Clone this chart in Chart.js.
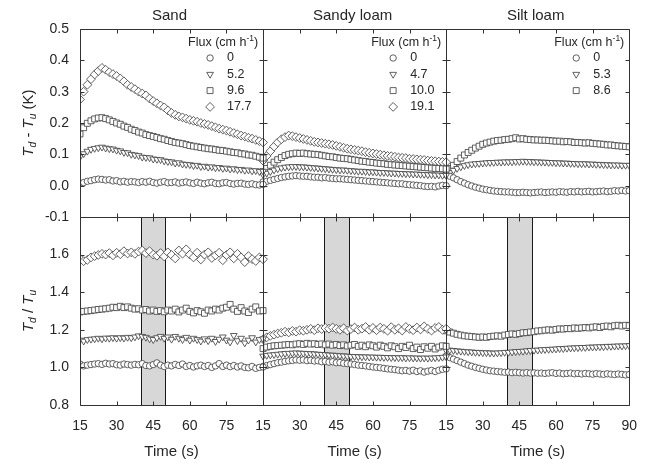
<!DOCTYPE html>
<html><head><meta charset="utf-8">
<script src="https://cdn.jsdelivr.net/npm/chart.js@4/dist/chart.umd.min.js"></script>
<style>html,body{margin:0;padding:0;background:#fff}#wrap{width:650px;height:463px;position:relative}</style>
</head><body><div id="wrap"><canvas id="c" width="650" height="463"></canvas></div>
<script>
// ---------------- data ----------------
const times = [15,16.5,18,19.5,21,22.5,24,25.5,27,28.5,30,31.5,33,34.5,36,37.5,39,40.5,42,43.5,45,46.5,48,49.5,51,52.5,54,55.5,57,58.5,60,61.5,63,64.5,66,67.5,69,70.5,72,73.5,75,76.5,78,79.5,81,82.5,84,85.5,87,88.5,90];
const panelTitles = ['Sand', 'Sandy loam', 'Silt loam'];
const fluxLabels = [['0','5.2','9.6','17.7'], ['0','4.7','10.0','19.1'], ['0','5.3','8.6']];
const shadeWindow = [40, 50];
const xTickValues = [15,30,45,60,75,90];
const topTicks = [-0.1,0,0.1,0.2,0.3,0.4,0.5];
const botTicks = [0.8,1.0,1.2,1.4,1.6,1.8];

// Td - Tu (K)
const sandDiff0   = [.008,.010,.014,.016,.019,.021,.020,.018,.019,.015,.016,.012,.014,.011,.013,.012,.010,.013,.011,.014,.010,.008,.011,.013,.009,.010,.012,.008,.010,.012,.009,.007,.011,.008,.006,.009,.011,.007,.006,.009,.010,.007,.005,.007,.008,.005,.004,.006,.003,.002,.004];
const sandDiff52  = [.092,.102,.110,.116,.119,.121,.123,.120,.118,.117,.113,.111,.106,.105,.100,.098,.096,.091,.090,.089,.085,.084,.083,.079,.077,.076,.072,.073,.069,.068,.067,.064,.065,.061,.062,.059,.060,.057,.058,.055,.056,.053,.054,.051,.052,.049,.050,.047,.048,.045,.046];
const sandDiff96  = [.165,.185,.199,.207,.213,.216,.217,.214,.210,.205,.200,.196,.190,.186,.180,.176,.171,.168,.163,.160,.157,.154,.150,.148,.144,.141,.138,.136,.134,.131,.128,.126,.124,.122,.120,.118,.117,.115,.113,.112,.110,.108,.106,.105,.102,.101,.098,.097,.094,.091,.088];
const sandDiff177 = [.275,.300,.322,.340,.355,.366,.376,.370,.362,.356,.350,.342,.333,.322,.315,.308,.300,.294,.288,.278,.270,.263,.256,.250,.240,.232,.226,.221,.218,.214,.210,.207,.204,.200,.197,.194,.190,.186,.182,.179,.176,.172,.168,.164,.160,.157,.153,.150,.146,.142,.138];
const slDiff0   = [.012,.014,.017,.020,.023,.026,.028,.030,.031,.032,.031,.030,.030,.028,.027,.027,.025,.026,.024,.023,.022,.022,.021,.020,.019,.018,.017,.016,.015,.014,.013,.012,.011,.010,.009,.008,.007,.006,.006,.004,.003,.002,.001,.000,-.002,-.003,-.002,-.004,-.001,.001,.000];
const slDiff47  = [.035,.040,.045,.050,.054,.057,.059,.060,.061,.061,.060,.060,.059,.058,.057,.056,.055,.054,.053,.052,.051,.050,.050,.049,.048,.047,.046,.046,.045,.044,.044,.043,.042,.042,.041,.040,.040,.039,.039,.038,.038,.037,.037,.036,.036,.035,.035,.034,.034,.033,.033];
const slDiff100 = [.045,.055,.065,.075,.083,.090,.096,.100,.102,.104,.103,.104,.102,.101,.100,.099,.097,.095,.093,.092,.090,.088,.087,.086,.084,.082,.080,.078,.077,.075,.074,.072,.071,.070,.068,.067,.066,.065,.064,.063,.062,.061,.060,.059,.058,.057,.056,.055,.055,.054,.053];
const slDiff191 = [.080,.095,.110,.125,.138,.148,.155,.160,.158,.155,.152,.149,.146,.143,.140,.138,.136,.134,.132,.130,.127,.124,.121,.118,.116,.114,.112,.110,.107,.105,.103,.101,.099,.097,.095,.094,.092,.090,.089,.088,.086,.085,.084,.083,.082,.080,.079,.078,.077,.076,.075];
const siDiff0  = [.035,.030,.025,.019,.013,.008,.003,-.001,-.005,-.008,-.011,-.013,-.015,-.017,-.018,-.019,-.020,-.020,-.021,-.022,-.022,-.021,-.022,-.023,-.022,-.021,-.020,-.022,-.021,-.020,-.021,-.019,-.020,-.021,-.019,-.020,-.018,-.020,-.019,-.018,-.020,-.019,-.018,-.017,-.019,-.018,-.016,-.017,-.015,-.017,-.016];
const siDiff53 = [.035,.042,.049,.055,.060,.064,.067,.069,.070,.071,.072,.073,.074,.074,.075,.075,.076,.076,.076,.077,.077,.078,.077,.077,.076,.076,.075,.075,.074,.074,.073,.073,.072,.072,.071,.071,.070,.070,.070,.069,.069,.068,.068,.067,.067,.066,.066,.066,.065,.065,.065];
const siDiff86 = [.045,.055,.065,.077,.088,.098,.106,.113,.120,.126,.132,.136,.139,.142,.144,.145,.147,.148,.150,.153,.149,.150,.148,.147,.146,.146,.145,.145,.144,.143,.142,.142,.140,.141,.140,.138,.138,.137,.136,.137,.135,.134,.133,.132,.130,.130,.128,.127,.126,.125,.124];

// Td / Tu
const sandRat0   = [1.018,1.008,1.012,1.015,1.018,1.020,1.016,1.022,1.018,1.020,1.014,1.012,1.018,1.015,1.012,1.016,1.014,1.020,1.010,1.008,1.015,1.024,1.012,1.005,1.012,1.008,1.016,1.010,1.018,1.005,1.010,1.002,1.008,1.012,1.005,1.010,1.000,1.008,1.020,1.005,1.012,1.004,1.010,1.002,1.008,1.000,0.998,1.005,0.995,1.000,1.002];
const sandRat52  = [1.145,1.140,1.148,1.150,1.152,1.155,1.152,1.156,1.155,1.158,1.155,1.158,1.156,1.160,1.158,1.162,1.168,1.165,1.160,1.152,1.148,1.158,1.165,1.155,1.162,1.150,1.165,1.155,1.148,1.160,1.145,1.155,1.148,1.140,1.152,1.142,1.155,1.138,1.150,1.162,1.145,1.135,1.170,1.142,1.155,1.130,1.145,1.158,1.135,1.148,1.152];
const sandRat96  = [1.295,1.298,1.300,1.302,1.305,1.308,1.310,1.312,1.315,1.320,1.318,1.325,1.318,1.322,1.315,1.310,1.312,1.305,1.308,1.300,1.305,1.298,1.302,1.296,1.305,1.300,1.310,1.295,1.305,1.315,1.298,1.290,1.302,1.296,1.288,1.305,1.300,1.310,1.305,1.315,1.320,1.335,1.310,1.298,1.318,1.300,1.292,1.310,1.322,1.300,1.302];
const sandRat177 = [1.578,1.565,1.572,1.585,1.592,1.598,1.604,1.600,1.608,1.596,1.610,1.602,1.618,1.606,1.612,1.604,1.616,1.622,1.608,1.618,1.600,1.594,1.608,1.590,1.612,1.598,1.580,1.622,1.605,1.628,1.600,1.585,1.610,1.574,1.600,1.612,1.582,1.596,1.610,1.570,1.598,1.612,1.580,1.604,1.585,1.560,1.592,1.576,1.566,1.585,1.575];
const slRat0   = [1.005,1.010,1.015,1.020,1.025,1.028,1.032,1.035,1.037,1.040,1.038,1.040,1.036,1.038,1.034,1.035,1.030,1.032,1.028,1.030,1.025,1.026,1.022,1.020,1.018,1.015,1.012,1.010,1.008,1.005,1.002,1.000,0.998,0.995,0.992,0.990,0.988,0.985,0.982,0.984,0.980,0.985,0.978,0.982,0.975,0.980,0.984,0.978,0.985,0.990,0.992];
const slRat47  = [1.060,1.064,1.066,1.068,1.070,1.072,1.074,1.075,1.076,1.077,1.076,1.075,1.074,1.073,1.072,1.070,1.069,1.068,1.066,1.065,1.064,1.062,1.061,1.060,1.058,1.058,1.057,1.056,1.056,1.055,1.055,1.054,1.054,1.053,1.053,1.052,1.052,1.051,1.052,1.050,1.051,1.050,1.050,1.049,1.050,1.049,1.050,1.051,1.052,1.054,1.056];
const slRat100 = [1.100,1.108,1.112,1.115,1.116,1.118,1.120,1.122,1.120,1.124,1.126,1.122,1.128,1.124,1.126,1.122,1.125,1.120,1.124,1.118,1.122,1.116,1.120,1.114,1.118,1.122,1.112,1.118,1.110,1.120,1.115,1.108,1.118,1.112,1.104,1.115,1.110,1.100,1.112,1.106,1.118,1.100,1.108,1.095,1.110,1.102,1.112,1.098,1.108,1.115,1.112];
const slRat191 = [1.150,1.160,1.168,1.174,1.180,1.184,1.190,1.186,1.194,1.190,1.198,1.195,1.200,1.205,1.198,1.208,1.204,1.210,1.206,1.212,1.205,1.200,1.208,1.196,1.204,1.212,1.200,1.206,1.215,1.200,1.210,1.198,1.212,1.205,1.195,1.214,1.200,1.208,1.196,1.215,1.205,1.198,1.212,1.202,1.218,1.205,1.196,1.210,1.215,1.200,1.206];
const siRat0  = [1.060,1.052,1.044,1.036,1.028,1.020,1.012,1.006,1.000,0.995,0.990,0.986,0.982,0.980,0.978,0.976,0.974,0.975,0.972,0.974,0.972,0.970,0.972,0.970,0.971,0.969,0.970,0.968,0.970,0.972,0.968,0.970,0.966,0.968,0.970,0.966,0.968,0.965,0.968,0.966,0.964,0.967,0.965,0.963,0.966,0.964,0.962,0.965,0.963,0.960,0.962];
const siRat53 = [1.090,1.092,1.090,1.088,1.086,1.085,1.083,1.082,1.080,1.080,1.078,1.078,1.077,1.076,1.077,1.078,1.080,1.080,1.082,1.084,1.085,1.086,1.088,1.090,1.091,1.092,1.094,1.095,1.096,1.097,1.098,1.100,1.100,1.102,1.103,1.104,1.105,1.106,1.106,1.108,1.108,1.109,1.110,1.110,1.112,1.112,1.113,1.114,1.114,1.115,1.116];
const siRat86 = [1.195,1.188,1.182,1.176,1.172,1.168,1.166,1.164,1.162,1.160,1.162,1.160,1.164,1.166,1.168,1.166,1.172,1.175,1.178,1.176,1.180,1.184,1.185,1.188,1.190,1.194,1.195,1.198,1.200,1.198,1.202,1.205,1.204,1.207,1.206,1.210,1.208,1.210,1.212,1.210,1.214,1.216,1.212,1.218,1.220,1.216,1.222,1.224,1.220,1.224,1.222];

const diffSeries  = [[sandDiff0, sandDiff52, sandDiff96, sandDiff177], [slDiff0, slDiff47, slDiff100, slDiff191], [siDiff0, siDiff53, siDiff86]];
const ratioSeries = [[sandRat0, sandRat52, sandRat96, sandRat177], [slRat0, slRat47, slRat100, slRat191], [siRat0, siRat53, siRat86]];

// ---------------- presentation ----------------
const SPAN = 75, T0 = 15;
const FONT = '"Liberation Sans", Arial, sans-serif';
const INK = '#262626';
const MARK = '#444';
const markers = [
  {pointStyle: 'circle',   radius: 3.2, rotation: 0},
  {pointStyle: 'triangle', radius: 3.9, rotation: 180},
  {pointStyle: 'rect',     radius: 4.2, rotation: 0},
  {pointStyle: 'rectRot',  radius: 4.4, rotation: 0}
];

const datasets = [];
function addSet(values, panel, m, axis) {
  datasets.push({
    data: values.map((v, i) => ({x: times[i] + panel * SPAN, y: v})),
    yAxisID: axis,
    showLine: false,
    pointStyle: markers[m].pointStyle,
    pointRadius: markers[m].radius,
    pointRotation: markers[m].rotation,
    pointBorderWidth: 0.85,
    pointBorderColor: MARK,
    pointBackgroundColor: '#fff',
    pointHoverRadius: markers[m].radius
  });
}
diffSeries.forEach((group, p) => group.forEach((vals, m) => addSet(vals, p, m, 'yTop')));
ratioSeries.forEach((group, p) => group.forEach((vals, m) => addSet(vals, p, m, 'yBot')));

function crisp(v) { return Math.round(v) + 0.5; }

function measureRich(ctx, parts, size) {
  let w = 0;
  parts.forEach(p => {
    const fs = p[2] ? size * 0.68 : size;
    ctx.font = (p[1] ? 'italic ' : '') + fs + 'px ' + FONT;
    w += ctx.measureText(p[0]).width;
  });
  return w;
}
function paintRich(ctx, parts, size, x, y) {
  let cx = x;
  parts.forEach(p => {
    const fs = p[2] ? size * 0.68 : size;
    ctx.font = (p[1] ? 'italic ' : '') + fs + 'px ' + FONT;
    const dy = p[2] === -1 ? size * 0.28 : (p[2] === 1 ? -size * 0.38 : 0);
    ctx.fillText(p[0], cx, y + dy);
    cx += ctx.measureText(p[0]).width;
  });
}

const deco = {
  id: 'deco',
  beforeDatasetsDraw(chart) {
    const {ctx} = chart;
    const xs = chart.scales.x, yb = chart.scales.yBot;
    ctx.save();
    for (let k = 0; k < 3; k++) {
      const x0 = crisp(xs.getPixelForValue(shadeWindow[0] + k * SPAN));
      const x1 = crisp(xs.getPixelForValue(shadeWindow[1] + k * SPAN));
      ctx.fillStyle = '#d7d7d7';
      ctx.fillRect(x0, yb.top, x1 - x0, yb.bottom - yb.top);
      ctx.strokeStyle = '#1a1a1a'; ctx.lineWidth = 1;
      ctx.beginPath();
      ctx.moveTo(x0, yb.top); ctx.lineTo(x0, yb.bottom);
      ctx.moveTo(x1, yb.top); ctx.lineTo(x1, yb.bottom);
      ctx.stroke();
    }
    ctx.restore();
  },
  afterDatasetsDraw(chart) {
    const {ctx} = chart;
    const xs = chart.scales.x, yt = chart.scales.yTop, yb = chart.scales.yBot;
    const L = crisp(xs.left), R = crisp(xs.right);
    const top = crisp(yt.top), mid = crisp(yt.bottom), bot = crisp(yb.bottom);
    ctx.save();
    ctx.strokeStyle = '#333'; ctx.lineWidth = 1;
    ctx.beginPath();
    ctx.rect(L, top, R - L, bot - top);
    ctx.moveTo(L, mid); ctx.lineTo(R, mid);
    for (let k = 1; k < 3; k++) {
      const xx = crisp(xs.getPixelForValue(T0 + k * SPAN));
      ctx.moveTo(xx, top); ctx.lineTo(xx, bot);
    }
    ctx.stroke();
    // inward ticks
    const TL = 4;
    ctx.beginPath();
    for (let k = 0; k < 3; k++) {
      const cl = crisp(xs.getPixelForValue(T0 + k * SPAN));
      const cr = crisp(xs.getPixelForValue(T0 + (k + 1) * SPAN));
      topTicks.forEach(v => { const yy = crisp(yt.getPixelForValue(v)); ctx.moveTo(cl, yy); ctx.lineTo(cl + TL, yy); ctx.moveTo(cr, yy); ctx.lineTo(cr - TL, yy); });
      botTicks.forEach(v => { const yy = crisp(yb.getPixelForValue(v)); ctx.moveTo(cl, yy); ctx.lineTo(cl + TL, yy); ctx.moveTo(cr, yy); ctx.lineTo(cr - TL, yy); });
      xTickValues.forEach(t => {
        const xx = crisp(xs.getPixelForValue(t + k * SPAN));
        ctx.moveTo(xx, bot); ctx.lineTo(xx, bot - TL);
        ctx.moveTo(xx, mid); ctx.lineTo(xx, mid + TL);
        ctx.moveTo(xx, mid); ctx.lineTo(xx, mid - TL);
        ctx.moveTo(xx, top); ctx.lineTo(xx, top + TL);
      });
    }
    ctx.stroke();

    for (let k = 0; k < 3; k++) {
      const cx = (xs.getPixelForValue(T0 + k * SPAN) + xs.getPixelForValue(T0 + (k + 1) * SPAN)) / 2;
      ctx.fillStyle = INK;
      ctx.textAlign = 'center'; ctx.textBaseline = 'middle';
      ctx.font = '15px ' + FONT;
      ctx.fillText(panelTitles[k], cx - 2, 16);
      ctx.fillText('Time (s)', cx, 452);
      // legend
      const right = xs.getPixelForValue(T0 + (k + 1) * SPAN);
      ctx.textAlign = 'left'; ctx.textBaseline = 'middle';
      paintRich(ctx, [['Flux (cm h', false, 0], ['-1', false, 1], [')', false, 0]], 12.5, right - 75, 43);
      fluxLabels[k].forEach((lab, m) => {
        const yy = 58 + m * 16.3;
        ctx.fillStyle = '#fff'; ctx.strokeStyle = MARK; ctx.lineWidth = 0.85;
        Chart.helpers.drawPoint(ctx, {pointStyle: markers[m].pointStyle, rotation: markers[m].rotation, radius: markers[m].radius, borderWidth: 0.85}, right - 53, yy);
        ctx.fillStyle = INK;
        ctx.font = '12.5px ' + FONT;
        ctx.fillText(lab, right - 36, yy);
      });
    }
    // y titles
    const yTitles = [
      {parts: [['T', true, 0], ['d', true, -1], [' - ', false, 0], ['T', true, 0], ['u', true, -1], [' (K)', false, 0]], cy: (yt.top + yt.bottom) / 2},
      {parts: [['T', true, 0], ['d', true, -1], [' / ', false, 0], ['T', true, 0], ['u', true, -1]], cy: (yb.top + yb.bottom) / 2}
    ];
    yTitles.forEach(t => {
      const w = measureRich(ctx, t.parts, 15);
      ctx.save();
      ctx.translate(29, t.cy);
      ctx.rotate(-Math.PI / 2);
      ctx.textAlign = 'left'; ctx.textBaseline = 'middle';
      ctx.fillStyle = INK;
      paintRich(ctx, t.parts, 15, -w / 2, 0);
      ctx.restore();
    });
    ctx.restore();
  }
};

const tickFont = {family: FONT, size: 14};
new Chart(document.getElementById('c'), {
  type: 'scatter',
  data: {datasets},
  plugins: [deco],
  options: {
    responsive: false, animation: false, devicePixelRatio: 1,
    layout: {padding: {top: 29, right: 8, left: 0, bottom: 0}},
    plugins: {legend: {display: false}, tooltip: {enabled: false}},
    scales: {
      x: {
        type: 'linear', min: T0, max: T0 + 3 * SPAN,
        afterFit: s => { s.height = 58; },
        afterBuildTicks: s => { s.ticks = []; for (let k = 0; k < 3; k++) xTickValues.forEach((t, j) => { if (k === 0 || j > 0) s.ticks.push({value: t + k * SPAN}); }); },
        grid: {display: false, drawTicks: false},
        border: {display: false},
        ticks: {
          autoSkip: false, maxRotation: 0, padding: 13, color: INK, font: tickFont,
          callback: v => { const r = v >= T0 + 3 * SPAN ? 90 : ((v - T0) % SPAN) + T0; return String(Math.round(r)); }
        }
      },
      yBot: {
        type: 'linear', position: 'left', stack: 'v', stackWeight: 1,
        min: botTicks[0], max: botTicks[botTicks.length - 1],
        afterFit: s => { s.width = 80; },
        afterBuildTicks: s => { s.ticks = botTicks.map(v => ({value: v})); },
        grid: {display: false, drawTicks: false}, border: {display: false},
        ticks: {autoSkip: false, padding: 11, color: INK, font: tickFont, callback: v => (Math.abs(v - 1.8) < 1e-6 ? '' : v.toFixed(1))}
      },
      yTop: {
        type: 'linear', position: 'left', stack: 'v', stackWeight: 1,
        min: topTicks[0], max: topTicks[topTicks.length - 1],
        afterFit: s => { s.width = 80; },
        afterBuildTicks: s => { s.ticks = topTicks.map(v => ({value: v})); },
        grid: {display: false, drawTicks: false}, border: {display: false},
        ticks: {autoSkip: false, padding: 11, color: INK, font: tickFont, callback: v => v.toFixed(1)}
      }
    }
  }
});
</script></body></html>
